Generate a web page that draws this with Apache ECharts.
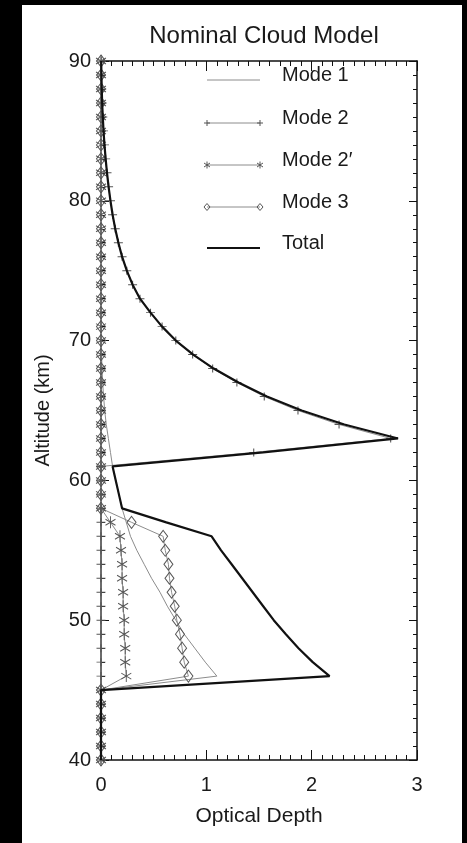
<!DOCTYPE html>
<html>
<head>
<meta charset="utf-8">
<script src="https://cdn.jsdelivr.net/npm/echarts@6/dist/echarts.min.js"></script>
<style>
html,body{margin:0;padding:0;background:#000;}
#chart{position:absolute;left:22px;top:5px;width:440px;height:838px;background:#fff;}
</style>
</head>
<body>
<div id="chart"></div>
<script>
// altitude grid, 1 km steps (40 .. 90 km)
var altitudes = [40,41,42,43,44,45,46,47,48,49,50,51,52,53,54,55,56,57,58,59,60,61,62,63,64,65,
    66,67,68,69,70,71,72,73,74,75,76,77,78,79,80,81,82,83,84,85,86,87,88,89,90];

var mode1 = [0,0,0,0,0,0, 1.10,0.99,0.89,0.79,0.71,0.63,0.56,0.48,0.41,0.34,0.28,0.24,
    0.20,0.17,0.14,0.11,0.09,0.07,0.05,0.035,0.025,0.015,0.01,0.005,
    0,0,0,0,0,0,0,0,0,0,0,0,0,0,0,0,0,0,0,0,0];

var mode2 = [0,0,0,0,0,0,0,0,0,0,0,0,0,0,0,0,0,0,0,0,0,0,
    1.45,2.75,2.26,1.87,1.55,1.29,1.06,0.87,0.71,0.58,0.47,0.37,0.30,0.245,0.20,0.165,
    0.135,0.11,0.09,0.072,0.057,0.044,0.033,0.024,0.017,0.011,0.007,0.004,0.002];

var mode2p = [0,0,0,0,0,0, 0.24,0.23,0.23,0.22,0.22,0.21,0.21,0.20,0.20,0.19,0.18,0.09,
    0,0,0,0,0,0,0,0,0,0,0,0,0,0,0,0,0,0,0,0,0,0,0,0,0,0,0,0,0,0,0,0,0];

var mode3 = [0,0,0,0,0,0, 0.83,0.79,0.77,0.75,0.72,0.70,0.67,0.65,0.64,0.61,0.59,0.29,
    0,0,0,0,0,0,0,0,0,0,0,0,0,0,0,0,0,0,0,0,0,0,0,0,0,0,0,0,0,0,0,0,0];

var total = [0,0,0,0,0,0, 2.17,2.01,1.875,1.755,1.64,1.54,1.44,1.34,1.24,1.14,1.05,0.62,
    0.20,0.17,0.14,0.11,1.54,2.82,2.31,1.905,1.575,1.305,1.07,0.875,0.71,0.58,0.47,0.37,
    0.30,0.245,0.20,0.165,0.135,0.11,0.09,0.072,0.057,0.044,0.033,0.024,0.017,0.011,0.007,0.004,0.002];

var legendNames = ['Mode 1','Mode 2','Mode 2\u2032','Mode 3','Total'];
var xTicks = [0,1,2,3];
var yTicks = [40,50,60,70,80,90];

function pairs(vals) {
    return vals.map(function (v, i) { return [v, altitudes[i]]; });
}

var font = 'Liberation Sans, Arial, Helvetica, sans-serif';
var gray = '#8c8c8c';
var mark = '#555';

// legend drawn by hand (IDL style: symbols at both ends of the sample line)
var legendY = [75, 118, 160, 202, 243];
var lx1 = 185, lx2 = 238, tx = 260;
var legendEls = [];
function seg(x1, y1, x2, y2, c, w) {
    return {type:'line', shape:{x1:x1,y1:y1,x2:x2,y2:y2}, style:{stroke:c, lineWidth:w}, silent:true};
}
function plus(x, y) {
    return [seg(x-3,y,x+3,y,mark,1), seg(x,y-3,x,y+3,mark,1)];
}
function star(x, y) {
    return [seg(x,y-3.5,x,y+3.5,mark,1), seg(x-3,y-2,x+3,y+2,mark,1), seg(x-3,y+2,x+3,y-2,mark,1)];
}
function diamond(x, y) {
    return [{type:'polygon', shape:{points:[[x,y-3.5],[x+3,y],[x,y+3.5],[x-3,y]]},
        style:{fill:'none', stroke:mark, lineWidth:1}, silent:true}];
}
legendNames.forEach(function (name, i) {
    var y = legendY[i];
    if (i === 4) {
        legendEls.push(seg(lx1, y, lx2, y, '#111', 2.2));
    } else {
        legendEls.push(seg(lx1, y, lx2, y, gray, 1));
    }
    var m = i === 1 ? plus : i === 2 ? star : i === 3 ? diamond : null;
    if (m) {
        legendEls = legendEls.concat(m(lx1, y), m(lx2, y));
    }
    legendEls.push({type:'text', left: tx, top: y - 15,
        style:{text:name, font:'20px ' + font, fill:'#1a1a1a'}});
});

var chart = echarts.init(document.getElementById('chart'));

function axisCommon(showLabel) {
    return {
        axisLine: {show:true, onZero:false, lineStyle:{color:'#111', width:1.5}},
        axisTick: {show:true, inside:true, length:10, lineStyle:{color:'#111', width:1}},
        minorTick: {show:true, splitNumber:10, length:5, lineStyle:{color:'#111', width:1}},
        splitLine: {show:false},
        axisLabel: {show:showLabel, color:'#1a1a1a', fontSize:20, fontFamily:font}
    };
}

var xBottom = Object.assign(axisCommon(true), {
    type:'value', min:xTicks[0], max:xTicks[xTicks.length-1], interval:1, position:'bottom',
    name:'Optical Depth', nameLocation:'middle', nameGap:46,
    nameTextStyle:{color:'#1a1a1a', fontSize:21, fontFamily:font}
});
xBottom.axisLabel.margin = 15;
var xTop = Object.assign(axisCommon(false), {
    type:'value', min:xTicks[0], max:xTicks[xTicks.length-1], interval:1, position:'top'
});
var yLeft = Object.assign(axisCommon(true), {
    type:'value', min:yTicks[0], max:yTicks[yTicks.length-1], interval:10, position:'left',
    name:'Altitude (km)', nameLocation:'middle', nameGap:48,
    nameTextStyle:{color:'#1a1a1a', fontSize:20, fontFamily:font}
});
yLeft.axisTick.length = 8;
yLeft.minorTick.length = 4;
yLeft.axisLabel.margin = 10;
var yRight = Object.assign(axisCommon(false), {
    type:'value', min:yTicks[0], max:yTicks[yTicks.length-1], interval:10, position:'right'
});
yRight.axisTick.length = 8;
yRight.minorTick.length = 4;

var option = {
    animation: false,
    title: {
        text: 'Nominal Cloud Model',
        left: 237, top: 14, textAlign: 'center',
        textStyle: {color:'#1a1a1a', fontSize:24, fontWeight:'normal', fontFamily:font}
    },
    grid: {left:79, right:45, top:56, bottom:83},
    xAxis: [xBottom, xTop],
    yAxis: [yLeft, yRight],
    graphic: legendEls,
    series: [
        {
            name: legendNames[0], type:'line', data: pairs(mode1),
            symbol:'none', lineStyle:{color:gray, width:1}, z:2
        },
        {
            name: legendNames[1], type:'line', data: pairs(mode2),
            symbol:'path://M0,5L10,5M5,1L5,9', symbolSize:[9,8], showSymbol:true,
            itemStyle:{color:'none', borderColor:mark, borderWidth:1},
            lineStyle:{color:gray, width:1}, z:3
        },
        {
            name: legendNames[2], type:'line', data: pairs(mode2p),
            symbol:'path://M5,0L5,12M0,3L10,9M0,9L10,3', symbolSize:[10,12], showSymbol:true,
            itemStyle:{color:'none', borderColor:mark, borderWidth:1},
            lineStyle:{color:gray, width:1}, z:3
        },
        {
            name: legendNames[3], type:'line', data: pairs(mode3),
            symbol:'diamond', symbolSize:[9,12], showSymbol:true,
            itemStyle:{color:'none', borderColor:mark, borderWidth:1},
            lineStyle:{color:gray, width:1}, z:3
        },
        {
            name: legendNames[4], type:'line', data: pairs(total),
            symbol:'none', lineStyle:{color:'#111', width:2.2}, z:5
        }
    ]
};
chart.setOption(option);
</script>
</body>
</html>
